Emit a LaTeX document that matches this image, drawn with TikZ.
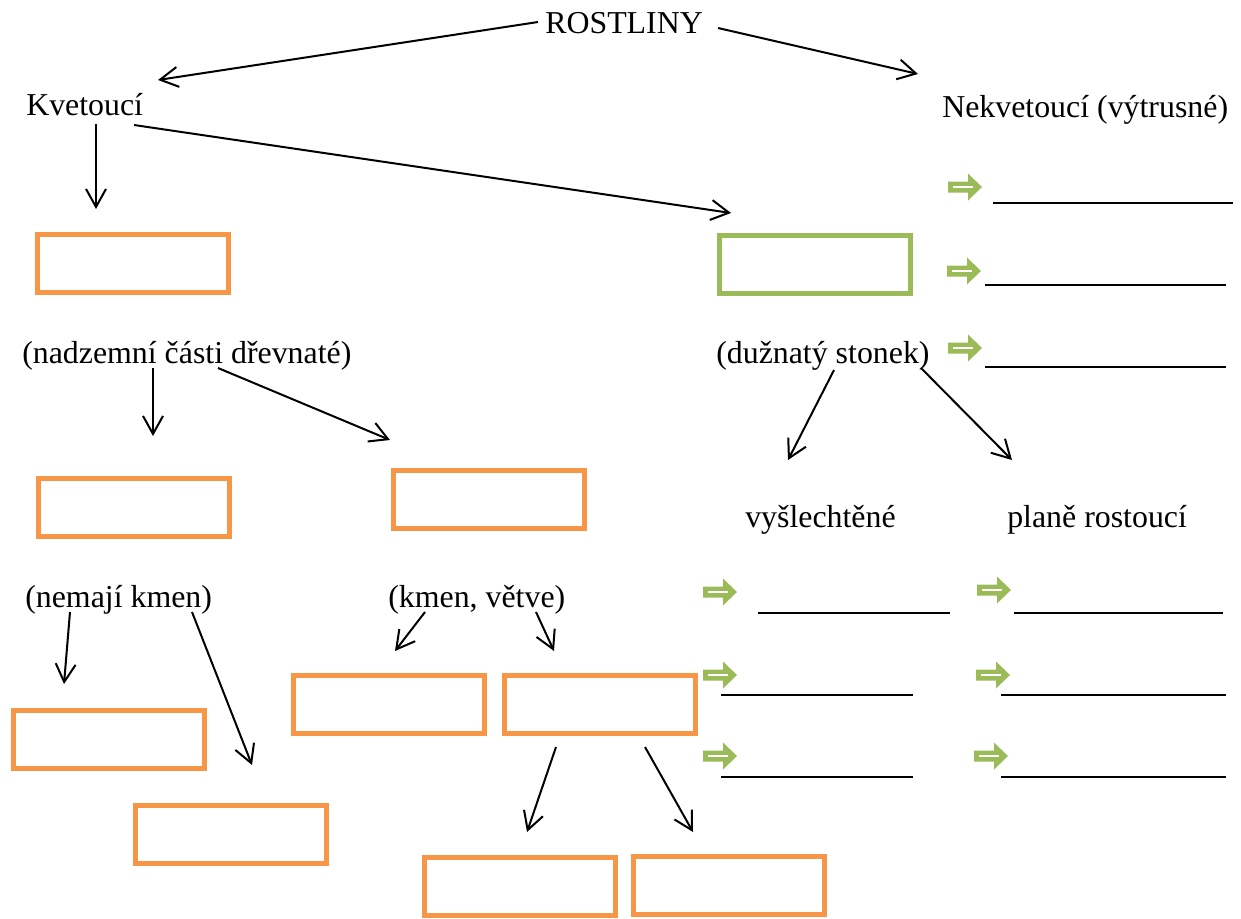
\documentclass[tikz,border=0pt]{standalone}
\usepackage{fontspec}
\setmainfont{Liberation Serif}
\usetikzlibrary{arrows.meta}
\definecolor{boxorange}{RGB}{247,150,70}
\definecolor{boxgreen}{RGB}{155,187,89}
\begin{document}
\begin{tikzpicture}[x=0.75pt,y=0.75pt,yscale=-1,xscale=1,
    lbl/.style={anchor=base west,inner sep=0pt,font=\fontsize{23.9pt}{28pt}\selectfont},
    obox/.style={draw=boxorange,line width=3.75pt,minimum width=143.25pt,minimum height=43.5pt,inner sep=0pt},
    gbox/.style={obox,draw=boxgreen},
    arr/.style={line width=1.5pt,-{Straight Barb[length=13.5pt,width=15pt,line width=1.5pt]}},
    pics/garrow/.style={code={
        \fill[boxgreen] (0,-5.5) -- (20,-5.5) -- (20,-13.5) -- (34,0) -- (20,13.5) -- (20,5.5) -- (0,5.5) -- cycle;
        \draw[white,line width=2.2pt] (5,0) -- (25,0);}},
    blank/.style={line width=1.25pt}]
\useasboundingbox (0,0) rectangle (1241,918);

% Text Node
    \node[lbl] (root) at (545,33) {ROSTLINY};
% Text Node
    \node[lbl] (kvet) at (26,115) {Kvetoucí};
% Text Node
    \node[lbl] (nekvet) at (942,117) {Nekvetoucí (výtrusné)};
% Text Node
    \node[lbl] (nadz) at (22,363) {(nadzemní části dřevnaté)};
% Text Node
    \node[lbl] (duz) at (716,363) {(dužnatý stonek)};
% Text Node
    \node[lbl] (vysl) at (745,527) {vyšlechtěné};
% Text Node
    \node[lbl] (plane) at (1007,527) {planě rostoucí};
% Text Node
    \node[lbl] (nemaji) at (25,607) {(nemají kmen)};
% Text Node
    \node[lbl] (kmen) at (388,607) {(kmen, větve)};

%Shape: Rectangle
    \node[obox] (b1) at (132.5,263.5) {};
%Shape: Rectangle
    \node[gbox] (b2) at (815,264.5) {};
%Shape: Rectangle
    \node[obox] (b3) at (134,507.5) {};
%Shape: Rectangle
    \node[obox] (b4) at (489,499.5) {};
%Shape: Rectangle
    \node[obox] (b5) at (388.5,704.5) {};
%Shape: Rectangle
    \node[obox] (b6) at (600,704.5) {};
%Shape: Rectangle
    \node[obox] (b7) at (109,739.5) {};
%Shape: Rectangle
    \node[obox] (b8) at (230.5,834.5) {};
%Shape: Rectangle
    \node[obox] (b9) at (520,886) {};
%Shape: Rectangle
    \node[obox] (b10) at (728.5,885) {};

% arrow ends
    \coordinate (rootL) at (538,22);   \coordinate (kvetT) at (158,80);
    \coordinate (rootR) at (718,28);   \coordinate (nekvT) at (918,74);
    \coordinate (kvetA) at (96,124);   \coordinate (b1T) at (96,209);
    \coordinate (kvetB) at (134,125);  \coordinate (b2T) at (731,213);
    \coordinate (nadzA) at (153,368);  \coordinate (b3T) at (153,436);
    \coordinate (nadzB) at (218,368);  \coordinate (b4T) at (390,440);
    \coordinate (duzA) at (834,370);   \coordinate (vyslT) at (788,460);
    \coordinate (duzB) at (921,368);   \coordinate (planeT) at (1012,460);
    \coordinate (nemA) at (70,612);    \coordinate (b7T) at (64,684);
    \coordinate (nemB) at (192,612);   \coordinate (b8T) at (252,765);
    \coordinate (kmenA) at (425,612);  \coordinate (b5T) at (395,651);
    \coordinate (kmenB) at (536,612);  \coordinate (b6T) at (554,651);
    \coordinate (b6A) at (556,747);    \coordinate (b9T) at (527,832);
    \coordinate (b6B) at (645,747);    \coordinate (b10T) at (693,832);

%Straight Lines
    \draw[arr] (rootL) -- (kvetT);
    \draw[arr] (rootR) -- (nekvT);
    \draw[arr] (kvetA) -- (b1T);
    \draw[arr] (kvetB) -- (b2T);
    \draw[arr] (nadzA) -- (b3T);
    \draw[arr] (nadzB) -- (b4T);
    \draw[arr] (duzA) -- (vyslT);
    \draw[arr] (duzB) -- (planeT);
    \draw[arr] (nemA) -- (b7T);
    \draw[arr] (nemB) -- (b8T);
    \draw[arr] (kmenA) -- (b5T);
    \draw[arr] (kmenB) -- (b6T);
    \draw[arr] (b6A) -- (b9T);
    \draw[arr] (b6B) -- (b10T);

%Shape: Right Arrow
    \pic at (948,187) {garrow};
    \pic at (947,271) {garrow};
    \pic at (948,348) {garrow};
    \pic at (703,592) {garrow};
    \pic at (977,590) {garrow};
    \pic at (703,675) {garrow};
    \pic at (976,675) {garrow};
    \pic at (703,756) {garrow};
    \pic at (974,756) {garrow};

%Straight Lines (blanks)
    \draw[blank] (993,203) -- (1233,203);
    \draw[blank] (985,285) -- (1226,285);
    \draw[blank] (985,367) -- (1226,367);
    \draw[blank] (758,613) -- (950,613);
    \draw[blank] (1014,613) -- (1223,613);
    \draw[blank] (721,695) -- (913,695);
    \draw[blank] (1001,695) -- (1226,695);
    \draw[blank] (721,777) -- (913,777);
    \draw[blank] (1001,777) -- (1226,777);
\end{tikzpicture}
\end{document}
